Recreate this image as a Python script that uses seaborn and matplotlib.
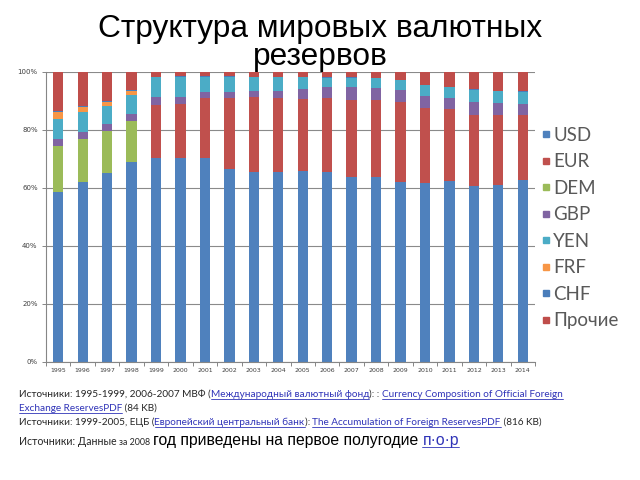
import numpy as np
import pandas as pd
import matplotlib
matplotlib.use("Agg")
import matplotlib.pyplot as plt
from matplotlib.lines import Line2D
import seaborn as sns

years = [str(y) for y in range(1995, 2015)]
currencies = ["USD", "EUR", "DEM", "GBP", "YEN", "FRF", "CHF", "Прочие"]
usd   = [58.7, 62.2, 65.1, 69.1, 70.5, 70.2, 70.5, 66.6, 65.4, 65.6, 65.9, 65.4, 63.9, 63.9, 62.0, 61.6, 62.4, 60.8, 61.0, 62.8]
eur   = [0, 0, 0, 0, 18.1, 18.8, 20.4, 24.3, 25.9, 25.3, 24.7, 25.5, 26.4, 26.4, 27.8, 25.9, 24.7, 24.4, 24.2, 22.4]
dem   = [15.9, 14.7, 14.7, 14.0, 0, 0, 0, 0, 0, 0, 0, 0, 0, 0, 0, 0, 0, 0, 0, 0]
gbp   = [2.3, 2.5, 2.3, 2.4, 2.9, 2.5, 2.1, 2.3, 2.1, 2.5, 3.5, 4.0, 4.6, 4.1, 4.0, 4.2, 3.8, 4.3, 4.2, 3.8]
yen   = [6.8, 6.9, 6.3, 6.6, 6.7, 6.9, 5.4, 5.0, 4.8, 4.8, 4.1, 3.1, 3.1, 3.4, 3.4, 3.8, 4.0, 4.3, 4.0, 4.1]
frf   = [2.6, 1.7, 1.4, 1.3, 0, 0, 0, 0, 0, 0, 0, 0, 0, 0, 0, 0, 0, 0, 0, 0]
chf   = [0.3, 0.2, 0.3, 0.3, 0.2, 0.3, 0.3, 0.4, 0.2, 0.2, 0.1, 0.2, 0.2, 0.1, 0.1, 0.1, 0.1, 0.2, 0.2, 0.2]
other = [13.4, 11.8, 9.9, 6.3, 1.6, 1.3, 1.3, 1.4, 1.6, 1.6, 1.7, 1.8, 1.8, 2.1, 2.7, 4.4, 5.0, 6.0, 6.4, 6.7]
series = [usd, eur, dem, gbp, yen, frf, chf, other]
colors = ["#4F81BD", "#C0504D", "#9BBB59", "#8064A2", "#4BACC6", "#F79646", "#4A7DBA", "#BF4D4A"]
yticks = [0, 20, 40, 60, 80, 100]

rows = []
for cur, vals in zip(currencies, series):
    for i, v in enumerate(vals):
        rows.append({"idx": i, "currency": cur, "value": v})
df = pd.DataFrame(rows)

sns.set_theme(style="white")
plt.rcParams["font.family"] = ["Liberation Sans", "DejaVu Sans"]

W, H = 640, 480
fig = plt.figure(figsize=(6.4, 4.8), dpi=100)
ax = fig.add_axes([46 / W, 1 - 362 / H, (535 - 46) / W, (362 - 72) / H])

palette = dict(zip(currencies, colors))
sns.histplot(data=df, x="idx", weights="value", hue="currency",
             hue_order=currencies[::-1], multiple="stack", discrete=True,
             shrink=0.42, palette=palette, alpha=1, linewidth=0,
             legend=False, ax=ax)

ax.set_xlim(-0.5, len(years) - 0.5)
ax.set_ylim(0, 100)
ax.set_xlabel("")
ax.set_ylabel("")
ax.set_xticks(range(len(years)))
ax.set_xticklabels(years, fontsize=4.5, color="#404040", family="DejaVu Sans")
ax.set_xticks(np.arange(-0.5, len(years), 1), minor=True)
ax.tick_params(axis="x", which="major", length=0, pad=4)
ax.tick_params(axis="x", which="minor", length=3, color="#868686", width=0.7, bottom=True)
ax.set_yticks(yticks)
ax.set_yticklabels([f"{v}%" for v in yticks], fontsize=5, color="#404040", family="DejaVu Sans")
ax.tick_params(axis="y", length=3, color="#868686", width=0.7, left=True, pad=3)
ax.yaxis.grid(True, color="#8a8a8a", linewidth=0.8)
ax.set_axisbelow(True)
for s in ["top", "right"]:
    ax.spines[s].set_visible(False)
for s in ["left", "bottom"]:
    ax.spines[s].set_color("#868686")
    ax.spines[s].set_linewidth(0.8)

handles = [Line2D([], [], marker="s", linestyle="none", markersize=4,
                  markerfacecolor=c, markeredgecolor=c) for c in colors]
ax.legend(handles, currencies, loc="upper left", bbox_to_anchor=(524 / W, 1 - 110 / H),
          bbox_transform=fig.transFigure, frameon=False,
          handlelength=0.5, handletextpad=0.15, labelspacing=0.505,
          labelcolor="#595959", prop={"family": "Lato", "size": 13.5})

fig.text(0.5, 1 - 37 / H, "Структура мировых валютных", ha="center", va="baseline",
         fontsize=22.8, color="#000000")
fig.text(0.5, 1 - 65.5 / H, "резервов", ha="center", va="baseline",
         fontsize=22.8, color="#000000")

renderer = fig.canvas.get_renderer()
DARK = "#262626"
BLUE = "#3034B8"
SMALL = 7.2
FAM = "Lato"


def draw_line(segs, x_px, y_px):
    x = x_px
    for text, color, size, ul, fam in segs:
        t = fig.text(x / W, 1 - y_px / H, text, color=color, fontsize=size,
                     family=fam, va="baseline", ha="left")
        bb = t.get_window_extent(renderer)
        if ul:
            yy = (H - y_px - 1.5) / H
            fig.add_artist(Line2D([bb.x0 / W, bb.x1 / W], [yy, yy],
                                  transform=fig.transFigure, color=color, lw=0.6))
        x = bb.x1


draw_line([
    ("Источники: 1995-1999, 2006-2007 МВФ (", DARK, SMALL, False, FAM),
    ("Международный валютный фонд", BLUE, SMALL, True, FAM),
    ("): : ", DARK, SMALL, False, FAM),
    ("Currency Composition of Official Foreign", BLUE, SMALL, True, FAM),
], 19, 397)
draw_line([
    ("Exchange ReservesPDF", BLUE, SMALL, True, FAM),
    (" (84 KB)", DARK, SMALL, False, FAM),
], 19, 411)
draw_line([
    ("Источники: 1999-2005, ЕЦБ (", DARK, SMALL, False, FAM),
    ("Европейский центральный банк", BLUE, SMALL, True, FAM),
    ("): ", DARK, SMALL, False, FAM),
    ("The Accumulation of Foreign ReservesPDF", BLUE, SMALL, True, FAM),
    (" (816 KB)", DARK, SMALL, False, FAM),
], 19, 425)
draw_line([
    ("Источники: Данные ", DARK, 7.6, False, FAM),
    ("за 2008 ", DARK, 6.4, False, FAM),
    ("год приведены на первое полугодие ", "#000000", 11.3, False, "Liberation Sans"),
    ("п·о·р", BLUE, 11.3, True, "Liberation Sans"),
], 19, 445)

fig.savefig("out.png", dpi=100, facecolor="white")
